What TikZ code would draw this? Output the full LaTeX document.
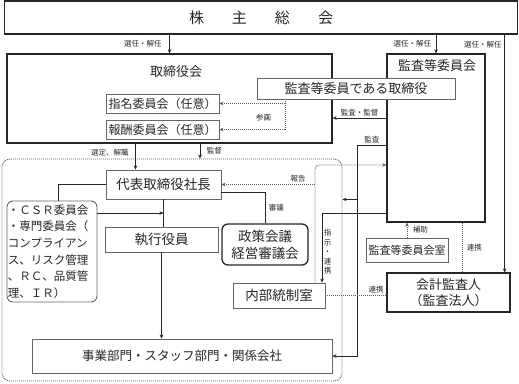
\documentclass[tikz,border=0pt]{standalone}
\usepackage{fontspec}
\setmainfont{Noto Sans CJK JP}
\usetikzlibrary{arrows.meta,calc}
\definecolor{ink}{HTML}{262626}
\definecolor{frame}{HTML}{666666}
\definecolor{dots}{HTML}{5E5E5E}
\newcommand{\jfs}[1]{\fontsize{#1}{#1}\selectfont}

\begin{document}
\begin{tikzpicture}[
    x=1pt, y=-1pt,
    >={Stealth[length=4pt,width=3.6pt]},
    box/.style={draw=frame, fill=white, line width=0.9pt, inner sep=0pt,
                text=ink, font=\jfs{13}},
    heavy/.style={box, draw=ink, line width=1.3pt},
    rbox/.style={box, rounded corners=6pt},
    lab/.style={font=\jfs{7.5}, text=ink, inner sep=1.5pt},
    ln/.style={draw=ink, line width=0.9pt},
    e/.style={->, ln},
    dline/.style={draw=dots, line width=0.9pt, dash pattern=on 1pt off 1pt},
    dl/.style={->, dline},
  ]
    \useasboundingbox (0,0) rectangle (519,383);
    % --- executive area ----------------------------------------------------
    \node[dline, rounded corners=8pt, minimum width=340pt, minimum height=222pt,
          inner sep=0pt] (execarea) at (172,270) {};
    % --- shareholders and board ---------------------------------------------
    \node[heavy, font=\jfs{15}, minimum width=513pt, minimum height=33pt]
          (soukai) at (261,17.5) {株\hspace{28pt}主\hspace{28pt}総\hspace{28pt}会};
    \node[heavy, minimum width=325pt, minimum height=89pt] (board) at (169.5,98.5) {};
    \node[lab, font=\jfs{13}, inner sep=0pt] (boardtitle) at (176,72) {取締役会};
    \node[heavy, minimum width=98pt, minimum height=168pt] (kansakai) at (436,138) {};
    \node[lab, font=\jfs{13}, inner sep=0pt] (kansatitle) at (437,66) {監査等委員会};
    \node[box, minimum width=198pt, minimum height=21pt] (kansatori) at (356,88.5)
          {監査等委員である取締役};
    \node[box, font=\jfs{12}, minimum width=113pt, minimum height=19pt]
          (shimei) at (162.5,103.5) {指名委員会（任意）};
    \node[box, font=\jfs{12}, minimum width=113pt, minimum height=19pt]
          (houshu) at (162.5,129.5) {報酬委員会（任意）};
    % --- execution ----------------------------------------------------------
    \node[box, font=\jfs{13.5}, minimum width=115pt, minimum height=29pt]
          (shachou) at (163.5,184.5) {代表取締役社長};
    \node[rbox, font=\fontsize{11.5}{16.6}\selectfont, align=left, inner xsep=1pt,
          text width=88pt, minimum width=90pt, minimum height=101pt]
          (csr) at (52,251.5) {・ＣＳＲ委員会\\・専門委員会（\\コンプライアン\\ス、リスク管理\\、ＲＣ、品質管\\理、ＩＲ）};
    \node[box, font=\jfs{13.5}, minimum width=113pt, minimum height=25pt]
          (shikkou) at (161.5,239.5) {執行役員};
    \node[rbox, draw=ink, line width=1.3pt, align=center,
          font=\fontsize{13.5}{17}\selectfont, minimum width=86pt, minimum height=41pt]
          (seisaku) at (265,244.5) {政策会議\\経営審議会};
    \node[box, font=\jfs{13.5}, minimum width=92pt, minimum height=25pt]
          (naibu) at (279,295.5) {内部統制室};
    \node[box, font=\jfs{12.5}, minimum width=300pt, minimum height=34pt]
          (jigyou) at (182,356) {事業部門・スタッフ部門・関係会社};
    % --- audit side ---------------------------------------------------------
    \node[box, font=\jfs{11}, minimum width=82pt, minimum height=24pt]
          (kansashitsu) at (407,250) {監査等委員会室};
    \node[heavy, align=center, font=\fontsize{13}{16}\selectfont,
          minimum width=123pt, minimum height=39pt]
          (kaikei) at (448.5,292.5) {会計監査人\\（監査法人）};
    % --- edges --------------------------------------------------------------
    \draw[e] (soukai.south -| board.north) -- (board.north)
          node[lab, midway, left=6pt]{選任・解任};
    \draw[e] (soukai.south -| kansakai.north) -- (kansakai.north)
          node[lab, midway, left=3pt]{選任・解任};
    \coordinate (kaitop) at ([xshift=-6pt]kaikei.north east);
    \draw[e] (soukai.south -| kaitop) -- (kaitop)
          node[lab, pos=0.042, left=1pt]{選任・解任};
    \draw[e] ([yshift=20pt]kansakai.west) -- ([yshift=20pt]kansakai.west -| board.east)
          node[lab, midway, above]{監査・監督};
    \coordinate (sankaku) at ([xshift=-71pt]kansatori.south);
    \draw[dl] (sankaku) |- (shimei.east);
    \draw[dl] (sankaku) |- (houshu.east) node[lab, pos=0.3, left=12pt]{参画};
    \coordinate (sentei) at ([xshift=-28pt]shachou.north);
    \draw[e] (board.south -| sentei) -- (sentei)
          node[lab, pos=0.35, left=5pt]{選定、解職};
    \coordinate (kantoku) at ([xshift=36.5pt]shachou.north);
    \draw[e] (board.south -| kantoku) -- (execarea.north -| kantoku)
          node[lab, midway, right=5pt]{監督};
    \draw[ln] (shachou.west) -| ([xshift=6pt]csr.north);
    \draw[ln] (shachou.south) -- (shachou.south |- shikkou.north);
    \coordinate (csrjoin) at ($(shachou.south)!0.5!(shachou.south |- shikkou.north)$);
    \draw[e] (csr.east |- csrjoin) -- (csrjoin);
    \draw[e] (shikkou.south) -- (shikkou.south |- jigyou.north);
    \draw[ln] ([yshift=-7.5pt]shachou.east) -| (seisaku.north)
          node[lab, pos=0.75, right=2pt]{審議};
    \coordinate (houkoku) at ([xshift=36pt]naibu.north);
    \draw[dl, rounded corners=4pt] (houkoku) |- ([yshift=-27pt]kansakai.west);
    \draw[dl] (houkoku |- shachou.east) -- (shachou.east)
          node[lab, pos=0.18, above]{報告};
    \coordinate (kansa) at ([xshift=-29pt, yshift=-7pt]kansakai.west);
    \draw[e] ([yshift=-7pt]kansakai.west) -- (kansa)
          node[lab, midway, above]{監査} |- (jigyou.east);
    \draw[e] (kansa |- shachou.south) -- (execarea.east |- shachou.south);
    \draw[e] ([yshift=-75pt]kansakai.west) -| ([xshift=43pt]naibu.north)
          node[lab, pos=0.78, right, align=center,
               font=\fontsize{7.5}{9.4}\selectfont]{指\\示\\・\\連\\携};
    \draw[dl] (kansashitsu.north) -- (kansashitsu.north |- kansakai.south)
          node[lab, midway, right=4pt]{補助};
    \coordinate (renkei) at ([xshift=26pt]kansakai.south);
    \draw[dline] (renkei) -- (renkei |- kaikei.north)
          node[lab, midway, right=3pt]{連携};
    \draw[dline] (naibu.east) -- (naibu.east -| kaikei.west)
          node[lab, pos=0.83, above]{連携};
  \end{tikzpicture}
\end{document}
